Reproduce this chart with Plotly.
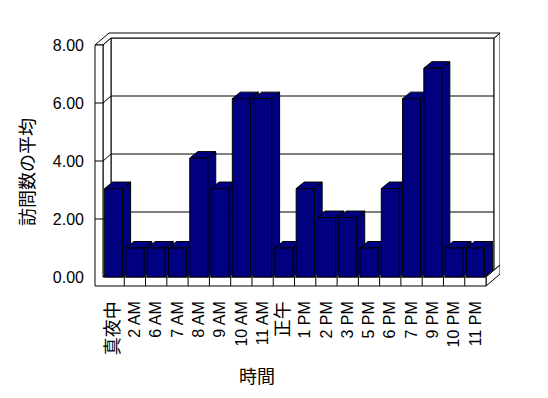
import plotly.graph_objects as go

# ---------------- data ----------------
categories = ["真夜中", "2 AM", "6 AM", "7 AM", "8 AM", "9 AM", "10 AM", "11 AM", "正午",
              "1 PM", "2 PM", "3 PM", "5 PM", "6 PM", "7 PM", "9 PM", "10 PM", "11 PM"]
avg_visits = [3.05, 1.0, 1.0, 1.0, 4.1, 3.05, 6.15, 6.15, 1.0,
              3.05, 2.05, 2.05, 1.0, 3.05, 6.15, 7.2, 1.0, 1.0]
y_ticks = [0, 2, 4, 6, 8]
y_tick_labels = ["0.00", "2.00", "4.00", "6.00", "8.00"]
x_title = "時間"
y_title = "訪問数の平均"

# ---------------- geometry (pseudo 3D) ----------------
n = len(categories)
PX_X = 21.28   # pixels per category
PX_Y = 29.0    # pixels per value unit
Y_MAX = y_ticks[-1]
x0, x1 = -0.5, n - 0.5
dx1, dy1 = 8 / PX_X, 7 / PX_Y      # depth of plot (back wall front face)
dx2, dy2 = 14 / PX_X, 12 / PX_Y    # back face of back wall
wall_t = 8 / PX_X                  # left wall thickness
floor_t = 9 / PX_Y                 # floor thickness
hw = 0.423                         # half bar width
bdx, bdy = 8 / PX_X, 6.5 / PX_Y    # bar depth

W, H = 548, 398
ML, MR, MT, MB = 90, 48, 28, 106
x_range = [x0 - 13 / PX_X, x0 + (W - MR - ML - 13) / PX_X]
y_range = [-15 / PX_Y, -15 / PX_Y + (H - MT - MB) / PX_Y]

NAVY = "#000080"
fig = go.Figure()


def polys(polygons, fill, width=1):
    xs, ys = [], []
    for p in polygons:
        for (a, b) in p:
            xs.append(a)
            ys.append(b)
        xs.append(p[0][0]); ys.append(p[0][1])
        xs.append(None); ys.append(None)
    fig.add_trace(go.Scatter(x=xs, y=ys, mode="lines", fill="toself", fillcolor=fill,
                             line=dict(color="black", width=width), hoverinfo="skip",
                             showlegend=False))


def lines(segs):
    xs, ys = [], []
    for (a, b), (c, d) in segs:
        xs += [a, c, None]
        ys += [b, d, None]
    fig.add_trace(go.Scatter(x=xs, y=ys, mode="lines", line=dict(color="black", width=1),
                             hoverinfo="skip", showlegend=False))


# back wall front face
polys([[(x0 + dx1, dy1), (x1 + dx1, dy1), (x1 + dx1, Y_MAX + dy1), (x0 + dx1, Y_MAX + dy1)]], "white")
# back wall right face
polys([[(x1 + dx1, dy1), (x1 + dx1, Y_MAX + dy1), (x1 + dx2, Y_MAX + dy2), (x1 + dx2, dy2)]], "white")
# top faces of walls
polys([[(x0 - wall_t, Y_MAX), (x0, Y_MAX), (x0 + dx1, Y_MAX + dy1), (x1 + dx1, Y_MAX + dy1),
         (x1 + dx2, Y_MAX + dy2), (x0 - wall_t + dx2, Y_MAX + dy2)]], "white")
# left wall inner face
polys([[(x0, 0), (x0, Y_MAX), (x0 + dx1, Y_MAX + dy1), (x0 + dx1, dy1)]], "white")
# floor top
polys([[(x0, 0), (x1, 0), (x1 + dx1, dy1), (x0 + dx1, dy1)]], "white")
# floor right face
polys([[(x1, 0), (x1, -floor_t), (x1 + dx2, -floor_t + dy2), (x1 + dx2, dy2)]], "white")
# front L (left wall + floor front)
polys([[(x0 - wall_t, Y_MAX), (x0, Y_MAX), (x0, 0), (x1, 0), (x1, -floor_t), (x0 - wall_t, -floor_t)]], "white")

# gridlines and ticks
segs = []
for v in y_ticks[1:-1]:
    segs.append(((x0 + dx1, v + dy1), (x1 + dx1, v + dy1)))
    segs.append(((x0, v), (x0 + dx1, v + dy1)))
    segs.append(((x0 - wall_t, v), (x0, v)))
for i in range(n - 1):
    segs.append(((i + 0.5, 0), (i + 0.5, -floor_t)))
lines(segs)

# bars: sides, tops, fronts (fronts drawn last so each covers the side of its left neighbour)
sides, tops, fronts = [], [], []
for i, h in enumerate(avg_visits):
    sides.append([(i + hw, 0), (i + hw, h), (i + hw + bdx, h + bdy), (i + hw + bdx, bdy)])
    tops.append([(i - hw, h), (i + hw, h), (i + hw + bdx, h + bdy), (i - hw + bdx, h + bdy)])
    fronts.append([(i - hw, 0), (i + hw, 0), (i + hw, h), (i - hw, h)])
polys(sides, NAVY)
polys(tops, NAVY)
polys(fronts, NAVY)


def tick_text(label):
    # CJK labels render a little larger in the reference
    if any(ord(ch) > 0x2E80 for ch in label):
        return "<span style='font-size:18px'>" + label + "</span>"
    return label


FONT = "Liberation Sans, Noto Sans CJK JP, sans-serif"
fig.update_layout(
    width=W, height=H,
    margin=dict(l=ML, r=MR, t=MT, b=MB),
    paper_bgcolor="white", plot_bgcolor="white",
    font=dict(family=FONT, size=16, color="black"),
    showlegend=False,
    xaxis=dict(range=x_range, tickvals=list(range(n)), ticktext=[tick_text(c) for c in categories],
               tickangle=-90, showgrid=False, zeroline=False, showline=False, ticks="",
               ticklabelstandoff=5, fixedrange=True),
    yaxis=dict(range=y_range, tickvals=y_ticks, ticktext=y_tick_labels,
               showgrid=False, zeroline=False, showline=False, ticks="",
               ticklabelstandoff=5, fixedrange=True),
    annotations=[
        dict(text=y_title, x=26, y=172, xref="paper", yref="paper", showarrow=False,
             textangle=-90, font=dict(size=18, family="Noto Sans CJK JP")),
        dict(text=x_title, x=257, y=375, xref="paper", yref="paper", showarrow=False,
             font=dict(size=18, family="Noto Sans CJK JP")),
    ],
)
# convert pixel positions of the axis titles to paper coordinates
pw, ph = W - ML - MR, H - MT - MB
for a in fig.layout.annotations:
    a.x = (a.x - ML) / pw
    a.y = (H - MB - a.y) / ph
    a.xanchor = "center"
    a.yanchor = "middle"

fig.write_html("out.html")
